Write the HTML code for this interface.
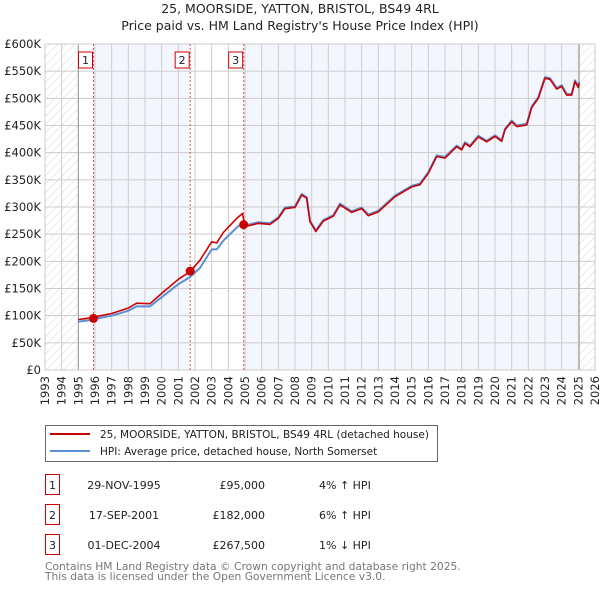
<!DOCTYPE html>
<html><head><meta charset="utf-8"><style>
body{margin:0;background:#fff;}
svg{display:block;font-family:"DejaVu Sans","Liberation Sans",sans-serif;}
</style></head><body>
<svg id="c" width="600" height="590" viewBox="0 0 600 590" xmlns="http://www.w3.org/2000/svg">
<defs>
<pattern id="hatch" width="6" height="6" patternUnits="userSpaceOnUse" patternTransform="rotate(45)">
<line x1="0" y1="0" x2="0" y2="6" stroke="#ccc" stroke-width="0.8"/>
</pattern>
</defs>
<text x="300" y="13" text-anchor="middle" font-size="12.5" fill="#222">25, MOORSIDE, YATTON, BRISTOL, BS49 4RL</text>
<text x="300" y="30" text-anchor="middle" font-size="12.5" fill="#222">Price paid vs. HM Land Registry's House Price Index (HPI)</text>
<g id="plot"></g>
<g>
<rect x="45.5" y="425.5" width="392" height="36" fill="#fff" stroke="#666"/>
<line x1="50" y1="434" x2="90" y2="434" stroke="#cc0000" stroke-width="2"/>
<text x="100" y="438" font-size="10.5" fill="#222">25, MOORSIDE, YATTON, BRISTOL, BS49 4RL (detached house)</text>
<line x1="50" y1="451" x2="90" y2="451" stroke="#5b8fd4" stroke-width="2"/>
<text x="100" y="455" font-size="10.5" fill="#222">HPI: Average price, detached house, North Somerset</text>
</g>
<g id="table" font-size="11" fill="#222"></g>
<text x="45" y="570" font-size="10.7" fill="#777">Contains HM Land Registry data © Crown copyright and database right 2025.</text>
<text x="45" y="580" font-size="10.7" fill="#777">This data is licensed under the Open Government Licence v3.0.</text>
</svg>
<script>
const yearTicks=[1993,1994,1995,1996,1997,1998,1999,2000,2001,2002,2003,2004,2005,2006,2007,2008,2009,2010,2011,2012,2013,2014,2015,2016,2017,2018,2019,2020,2021,2022,2023,2024,2025,2026];
const valueTicks=[0,50,100,150,200,250,300,350,400,450,500,550,600];
const valueLabels=["£0","£50K","£100K","£150K","£200K","£250K","£300K","£350K","£400K","£450K","£500K","£550K","£600K"];
const dates=[1995.0,1995.5,1996.0,1997.0,1998.0,1998.5,1999.3,2000.0,2001.0,2001.7,2002.3,2003.0,2003.3,2003.7,2004.5,2004.85,2005.0,2005.8,2006.5,2007.0,2007.4,2008.0,2008.4,2008.7,2008.9,2009.25,2009.7,2010.3,2010.7,2011.4,2012.0,2012.4,2013.0,2014.0,2015.0,2015.5,2016.0,2016.5,2017.0,2017.7,2018.0,2018.2,2018.5,2019.0,2019.5,2020.0,2020.4,2020.6,2021.0,2021.3,2021.9,2022.2,2022.6,2023.0,2023.3,2023.7,2024.0,2024.3,2024.6,2024.8,2025.0,2025.05];
const propertyValues=[93,95,98,104,114,123,122,141,167,181,202,236,234,253,279,288,264,270,268,279,297,299,322,316,273,255,274,283,304,290,297,284,291,319,337,341,362,393,390,411,405,417,411,429,420,430,421,442,457,448,451,483,500,537,535,517,522,506,506,531,520,528];
const hpiValues=[89,91,94,100,109,117,117,134,158,171,188,222,222,238,262,270,266,272,270,281,299,301,324,318,275,257,276,285,306,292,299,286,293,321,339,343,364,395,392,413,407,419,413,431,422,432,423,444,459,450,453,485,502,539,537,519,524,508,508,533,522,530];
const saleDates=[1995.91,2001.71,2004.92];
const salePrices=[95,182,267.5];
const saleLabels=["1","2","3"];
const saleDateText=["29-NOV-1995","17-SEP-2001","01-DEC-2004"];
const salePriceText=["£95,000","£182,000","£267,500"];
const saleHpiText=["4% ↑ HPI","6% ↑ HPI","1% ↓ HPI"];

const L=45,R=595,T=44,B=370,NS="http://www.w3.org/2000/svg";
const X=y=>L+(y-1993)/(2026-1993)*(R-L);
const Y=v=>B-v/600*(B-T);
const plot=document.getElementById('plot');
function mk(tag,attrs,parent){const e=document.createElementNS(NS,tag);for(const k in attrs)e.setAttribute(k,attrs[k]);(parent||plot).appendChild(e);return e;}

let r;
r=mk('rect',{x:X(1995.91),y:T,width:X(2001.71)-X(1995.91),height:B-T,fill:'#f3f6fd'});


r=mk('rect',{x:X(2004.92),y:T,width:X(2025.05)-X(2004.92),height:B-T,fill:'#f3f6fd'});


r=mk('rect',{x:L,y:T,width:X(1995)-L,height:B-T,fill:'url(#hatch)'});


r=mk('rect',{x:X(2025.05),y:T,width:R-X(2025.05),height:B-T,fill:'url(#hatch)'});



yearTicks.forEach(y=>{const g=mk('line',{x1:X(y),x2:X(y),y1:T,y2:B,stroke:'#ccc','stroke-width':1});


const t=mk('text',{x:0,y:0,transform:`translate(${X(y)+4},${B+6}) rotate(-90)`,'text-anchor':'end','font-size':11.5,fill:'#222'});t.textContent=y;

});
valueTicks.forEach((v,i)=>{const g=mk('line',{x1:L,x2:R,y1:Y(v),y2:Y(v),stroke:'#ccc','stroke-width':1});


const t=mk('text',{x:L-4,y:Y(v)+4,'text-anchor':'end','font-size':11.5,fill:'#222'});t.textContent=valueLabels[i];

});
r=mk('line',{x1:X(1995),x2:X(1995),y1:T,y2:B,stroke:'#999'});


r=mk('line',{x1:X(2025.05),x2:X(2025.05),y1:T,y2:B,stroke:'#999'});


r=mk('rect',{x:L,y:T,width:R-L,height:B-T,fill:'none',stroke:'#ccc'});



saleDates.forEach((d,i)=>{const l=mk('line',{x1:X(d),x2:X(d),y1:T,y2:B,stroke:'#e05050','stroke-dasharray':'2,2','stroke-width':1});


const b=mk('rect',{x:X(d)-15,y:52,width:14,height:16,fill:'#fff',stroke:'#cc0000'});


const t=mk('text',{x:X(d)-8,y:64,'text-anchor':'middle','font-size':11,fill:'#222'});t.textContent=saleLabels[i];

});

const pts=a=>a.map((v,i)=>X(dates[i]).toFixed(1)+','+Y(v).toFixed(1)).join(' ');
r=mk('polyline',{points:pts(hpiValues),fill:'none',stroke:'#5b8fd4','stroke-width':2,'stroke-linejoin':'round'});


r=mk('polyline',{points:pts(propertyValues),fill:'none',stroke:'#cc0000','stroke-width':1.6,'stroke-linejoin':'round'});


saleDates.forEach((d,i)=>{const c=mk('circle',{cx:X(d),cy:Y(salePrices[i]),r:4.5,fill:'#cc0000'});

});

const tb=document.getElementById('table');
const rowY=[485,515,545];
saleLabels.forEach((s,i)=>{
const b=mk('rect',{x:45.5,y:rowY[i]-10.5,width:14,height:20,fill:'none',stroke:'#cc0000'},tb);


const t1=mk('text',{x:52.5,y:rowY[i]+4,'text-anchor':'middle'},tb);t1.textContent=s;


const t2=mk('text',{x:124,y:rowY[i]+4,'text-anchor':'middle'},tb);t2.textContent=saleDateText[i];


const t3=mk('text',{x:265,y:rowY[i]+4,'text-anchor':'end'},tb);t3.textContent=salePriceText[i];


const t4=mk('text',{x:319,y:rowY[i]+4},tb);t4.textContent=saleHpiText[i];


});
</script>
</body></html>
